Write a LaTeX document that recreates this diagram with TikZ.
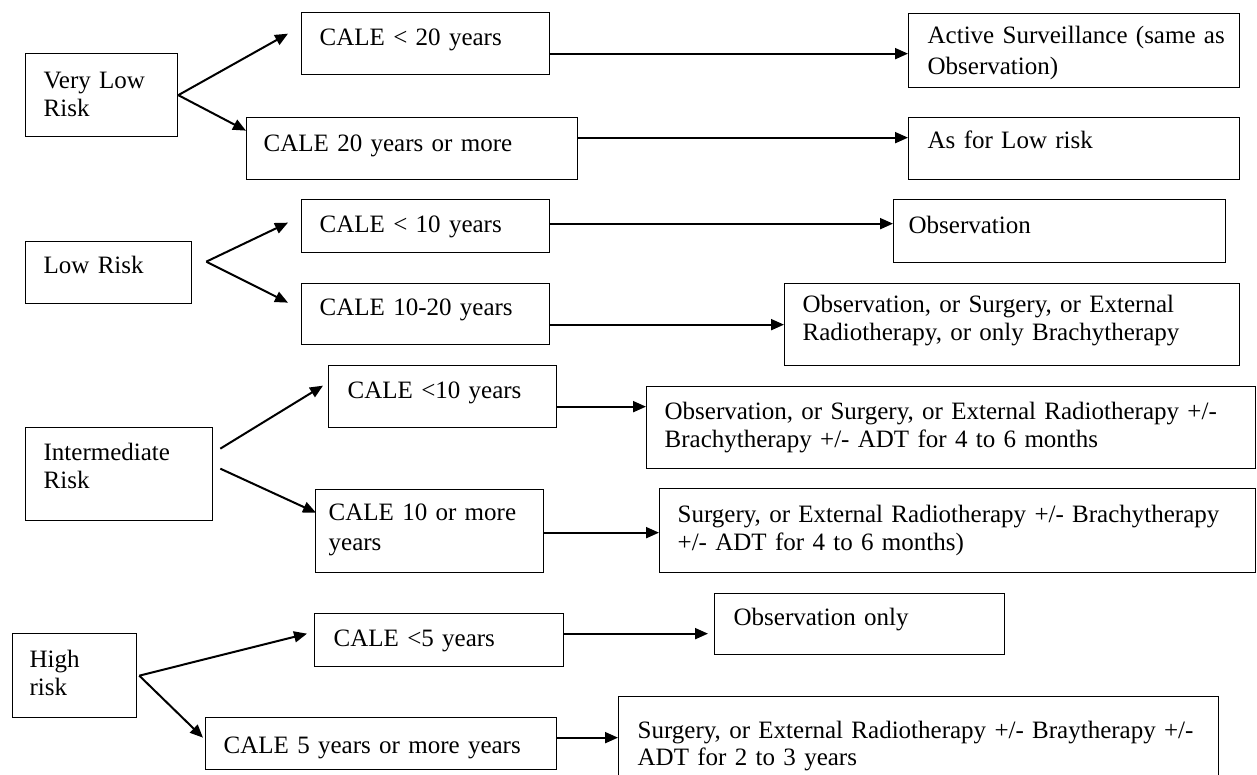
\documentclass[tikz,border=0pt]{standalone}
\usepackage{fontspec}
\setmainfont{Liberation Serif}
\usetikzlibrary{arrows.meta}
\begin{document}
\begin{tikzpicture}[x=1pt,y=-1pt,
  box/.style={draw, line width=1.3pt, anchor=north west, inner ysep=0pt, align=left,
    font=\fontsize{25}{28}\selectfont},
  arr/.style={line width=2pt, -{Triangle[length=13pt,width=11pt]}}]
\useasboundingbox (0,0) rectangle (1257,774);
\clip (0,0) rectangle (1257,774);
% left column
\node[box, text width=116pt, inner xsep=18pt, text height=35pt, text depth=48pt] (vl) at (25,53) {Very Low\\Risk};
\node[box, text width=130pt, inner xsep=18pt, text height=32pt, text depth=30pt] (lr) at (25,241) {Low Risk};
\node[box, text width=151pt, inner xsep=18pt, text height=33pt, text depth=60pt] (ir) at (25,427) {Intermediate\\Risk};
\node[box, text width=90pt, inner xsep=17pt, text height=34pt, text depth=50pt] (hr) at (12,633) {High\\risk};
% middle column
\node[box, text width=212pt, inner xsep=18pt, text height=33pt, text depth=29pt] (c1) at (301,12) {CALE < 20 years};
\node[box, text width=297pt, inner xsep=17pt, text height=34pt, text depth=28pt] (c2) at (246,117) {CALE 20 years or more};
\node[box, text width=212pt, inner xsep=18pt, text height=33pt, text depth=20pt] (c3) at (301,199) {CALE < 10 years};
\node[box, text width=212pt, inner xsep=18pt, text height=32pt, text depth=29pt] (c4) at (301,283) {CALE 10-20 years};
\node[box, text width=190pt, inner xsep=19pt, text height=33pt, text depth=29pt] (c5) at (328,365) {CALE <10 years};
\node[box, text width=202pt, inner xsep=13pt, text height=31pt, text depth=52pt, font=\fontsize{25}{30}\selectfont] (c6) at (315,489) {CALE 10 or more\\years};
\node[box, text width=211pt, inner xsep=19pt, text height=33pt, text depth=20pt] (c7) at (314,613) {CALE <5 years};
\node[box, text width=315pt, inner xsep=18pt, text height=36pt, text depth=16pt] (c8) at (205,717) {CALE 5 years or more years};
% right column
\node[box, text width=293pt, inner xsep=19pt, text height=30pt, text depth=44pt, font=\fontsize{25}{31}\selectfont] (r1) at (908,13) {\mbox{Active Surveillance (same as}\\Observation)};
\node[box, text width=293pt, inner xsep=19pt, text height=31pt, text depth=31pt] (r2) at (908,117) {As for Low risk};
\node[box, text width=302pt, inner xsep=15pt, text height=34pt, text depth=29pt] (r3) at (893,199) {Observation};
\node[box, text width=419pt, inner xsep=18pt, text height=29pt, text depth=53pt] (r4) at (784,283) {\mbox{Observation, or Surgery, or External}\\\mbox{Radiotherapy, or only Brachytherapy}};
\node[box, text width=573pt, inner xsep=18pt, text height=33pt, text depth=49pt] (r5) at (646,386) {\mbox{Observation, or Surgery, or External Radiotherapy +/-}\\\mbox{Brachytherapy +/- ADT for 4 to 6 months}};
\node[box, text width=560pt, inner xsep=18pt, text height=34pt, text depth=50pt] (r6) at (659,488) {\mbox{Surgery, or External Radiotherapy +/- Brachytherapy}\\\mbox{+/- ADT for 4 to 6 months)}};
\node[box, text width=252pt, inner xsep=19pt, text height=32pt, text depth=29pt] (r7) at (714,593) {Observation only};
\node[box, text width=562pt, inner xsep=19pt, text height=42pt, text depth=68pt, font=\fontsize{25}{27}\selectfont] (r8) at (618,696) {\mbox{Surgery, or External Radiotherapy +/- Braytherapy +/-}\\\mbox{ADT for 2 to 3 years}};
% connectors: very low risk
\draw[arr] (vl.east) -- ([xshift=-13pt,yshift=10pt]c1.west);
\draw[arr] (vl.east) -- ([yshift=18pt]c2.west);
\draw[arr] ([yshift=-10pt]c1.east) -- ([yshift=-10pt]c1.east -| r1.west);
\draw[arr] ([yshift=11pt]c2.east) -- ([yshift=11pt]c2.east -| r2.west);
% low risk
\draw[arr] ([xshift=14pt,yshift=11pt]lr.east) -- ([xshift=-13pt,yshift=3.5pt]c3.west);
\draw[arr] ([xshift=14pt,yshift=11pt]lr.east) -- ([xshift=-13pt,yshift=11.5pt]c4.west);
\draw[arr] ([yshift=2.5pt]c3.east) -- ([yshift=2.5pt]c3.east -| r3.west);
\draw[arr] ([yshift=-10.5pt]c4.east) -- ([yshift=-10.5pt]c4.east -| r4.west);
% intermediate risk
\draw[arr] ([xshift=7pt,yshift=25.5pt]ir.east) -- ([xshift=-5pt,yshift=11pt]c5.west);
\draw[arr] ([xshift=7pt,yshift=5.5pt]ir.east) -- ([xshift=1pt,yshift=18.5pt]c6.west);
\draw[arr] ([yshift=-10pt]c5.east) -- ([yshift=-10pt]c5.east -| r5.west);
\draw[arr] ([yshift=-1.5pt]c6.east) -- ([yshift=-1.5pt]c6.east -| r6.west);
% high risk
\draw[arr] ([xshift=2pt]hr.east) -- ([xshift=-7pt,yshift=6.5pt]c7.west);
\draw[arr] ([xshift=2pt]hr.east) -- ([xshift=-2pt,yshift=6pt]c8.west);
\draw[arr] ([yshift=6.5pt]c7.east) -- ([yshift=6.5pt,xshift=-6pt]c7.east -| r7.west);
\draw[arr] ([yshift=6pt]c8.east) -- ([yshift=6pt]c8.east -| r8.west);
\end{tikzpicture}
\end{document}
